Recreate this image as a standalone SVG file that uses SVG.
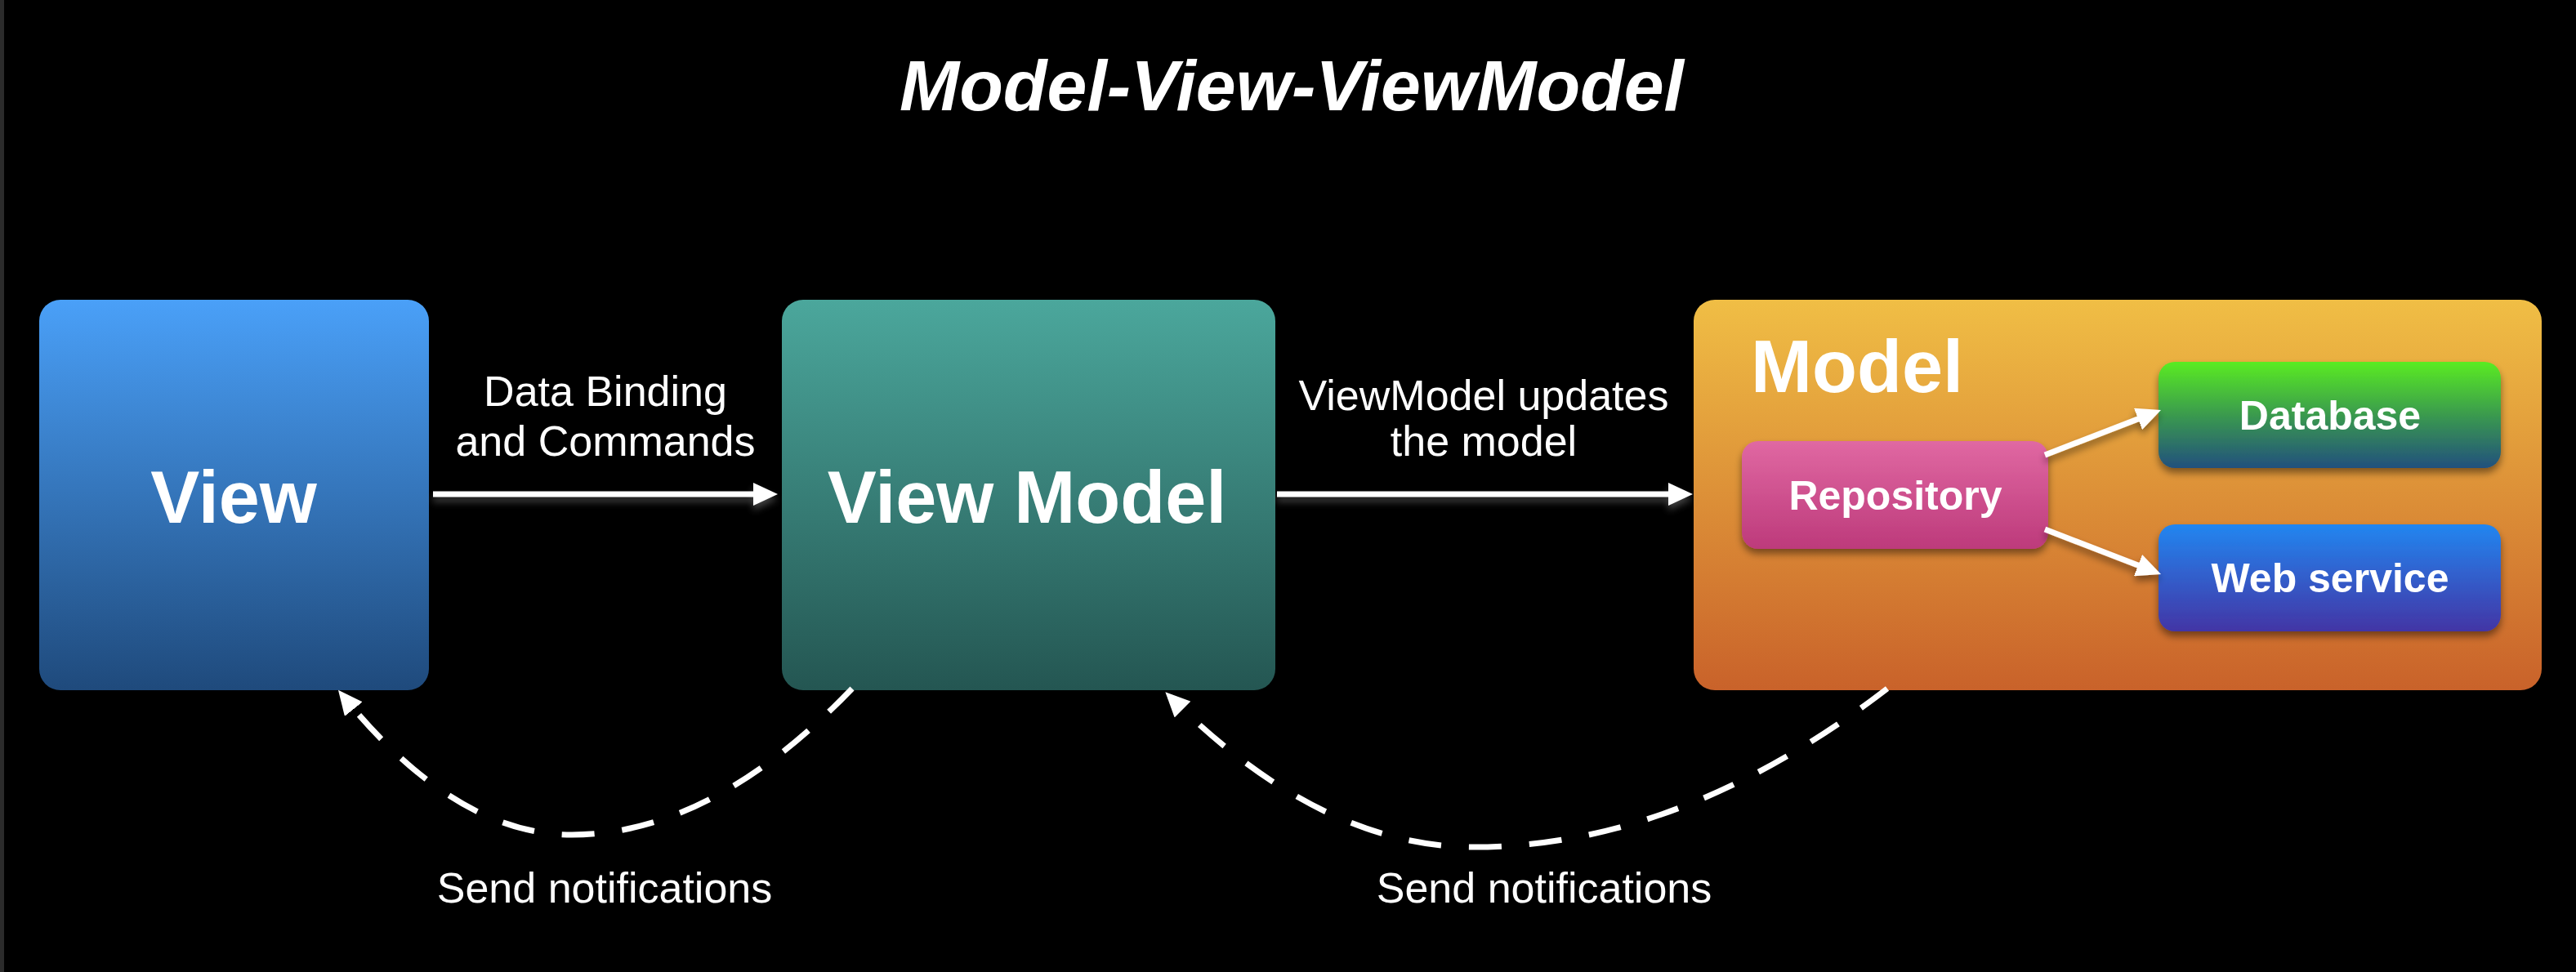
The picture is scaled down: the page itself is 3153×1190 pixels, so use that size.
<svg xmlns="http://www.w3.org/2000/svg" width="3153" height="1190" viewBox="0 0 3153 1190">
  <defs>
    <style>
      .t { font-family: "Liberation Sans", Arial, Helvetica, sans-serif; fill: #ffffff; }
      .big { font-size: 90px; font-weight: bold; }
      .lbl { font-size: 52px; }
      .inner { font-size: 50px; font-weight: bold; }
      .mid { text-anchor: middle; }
      .conn { stroke: #ffffff; stroke-width: 7; fill: none; }
      .dash { stroke-dasharray: 40 34; }
    </style>
    <linearGradient id="gView" x1="0" y1="0" x2="0" y2="1">
      <stop offset="0" stop-color="#4aa0f8"/>
      <stop offset="1" stop-color="#1f4a7c"/>
    </linearGradient>
    <linearGradient id="gVM" x1="0" y1="0" x2="0" y2="1">
      <stop offset="0" stop-color="#4ba79c"/>
      <stop offset="1" stop-color="#245652"/>
    </linearGradient>
    <linearGradient id="gModel" x1="0" y1="0" x2="0" y2="1">
      <stop offset="0" stop-color="#f0be45"/>
      <stop offset="1" stop-color="#c9622a"/>
    </linearGradient>
    <linearGradient id="gRepo" x1="0" y1="0" x2="0" y2="1">
      <stop offset="0" stop-color="#e068a2"/>
      <stop offset="1" stop-color="#bd3a7b"/>
    </linearGradient>
    <linearGradient id="gDb" x1="0" y1="0" x2="0" y2="1">
      <stop offset="0" stop-color="#5aec22"/>
      <stop offset="0.5" stop-color="#3a9a4e"/>
      <stop offset="1" stop-color="#22507d"/>
    </linearGradient>
    <linearGradient id="gWs" x1="0" y1="0" x2="0" y2="1">
      <stop offset="0" stop-color="#2286f0"/>
      <stop offset="1" stop-color="#4335a5"/>
    </linearGradient>
    <filter id="shadow" filterUnits="userSpaceOnUse" x="0" y="0" width="3153" height="1190">
      <feGaussianBlur in="SourceAlpha" stdDeviation="5"/>
      <feOffset dx="0" dy="6" result="b"/>
      <feComponentTransfer><feFuncA type="linear" slope="0.45"/></feComponentTransfer>
      <feMerge><feMergeNode/><feMergeNode in="SourceGraphic"/></feMerge>
    </filter>
    <filter id="glow" filterUnits="userSpaceOnUse" x="0" y="0" width="3153" height="1190">
      <feGaussianBlur in="SourceAlpha" stdDeviation="4"/>
      <feOffset dx="0" dy="6" result="b"/>
      <feFlood flood-color="#777777" flood-opacity="0.55"/>
      <feComposite in2="b" operator="in"/>
      <feMerge><feMergeNode/><feMergeNode in="SourceGraphic"/></feMerge>
    </filter>
    <marker id="ah" markerUnits="userSpaceOnUse" markerWidth="30" markerHeight="28" viewBox="0 0 30 28" refX="15" refY="14" orient="auto">
      <path d="M0,0 L30,14 L0,28 z" fill="#ffffff"/>
    </marker>
    <marker id="ahd" markerUnits="userSpaceOnUse" markerWidth="30" markerHeight="28" viewBox="0 0 30 28" refX="22" refY="14" orient="auto">
      <path d="M0,0 L30,14 L0,28 z" fill="#ffffff"/>
    </marker>
  </defs>

  <rect x="0" y="0" width="3153" height="1190" fill="#000000"/>
  <rect x="0" y="0" width="5" height="1190" fill="#2b2b2b"/>

  <text class="t" x="1101" y="135" font-size="88" font-weight="bold" font-style="italic" textLength="960" lengthAdjust="spacingAndGlyphs">Model-View-ViewModel</text>

  <g id="view">
    <rect x="48" y="367" width="477" height="478" rx="26" fill="url(#gView)"/>
    <text class="t big mid" x="286" y="640">View</text>
  </g>

  <g id="viewmodel">
    <rect x="957" y="367" width="604" height="478" rx="26" fill="url(#gVM)"/>
    <text class="t big mid" x="1257" y="640">View Model</text>
  </g>

  <g id="model">
    <rect x="2073" y="367" width="1038" height="478" rx="26" fill="url(#gModel)"/>
    <text class="t big" x="2143" y="480">Model</text>
  </g>

  <g id="repository" filter="url(#shadow)">
    <rect x="2132" y="540" width="375" height="132" rx="20" fill="url(#gRepo)"/>
    <text class="t inner mid" x="2320" y="624">Repository</text>
  </g>

  <g id="database" filter="url(#shadow)">
    <rect x="2642" y="443" width="419" height="130" rx="20" fill="url(#gDb)"/>
    <text class="t inner mid" x="2852" y="526">Database</text>
  </g>

  <g id="webservice" filter="url(#shadow)">
    <rect x="2642" y="642" width="419" height="131" rx="20" fill="url(#gWs)"/>
    <text class="t inner mid" x="2852" y="725">Web service</text>
  </g>

  <g id="connectors">
    <g filter="url(#glow)">
      <line class="conn" x1="530" y1="605" x2="937" y2="605" marker-end="url(#ah)"/>
      <line class="conn" x1="1563" y1="605" x2="2057" y2="605" marker-end="url(#ah)"/>
    </g>
    <g filter="url(#shadow)">
      <line class="conn" x1="2503" y1="557" x2="2631" y2="507.5" marker-end="url(#ah)"/>
      <line class="conn" x1="2503" y1="648" x2="2631" y2="697.5" marker-end="url(#ah)"/>
    </g>
    <path class="conn dash" d="M1043,843 Q871,1022 700,1022 Q557,1022 419,851" marker-end="url(#ahd)"/>
    <path class="conn dash" d="M2310,843 Q2057,1037 1804,1037 Q1616,1037 1432,853" marker-end="url(#ahd)"/>

    <text class="t lbl mid" x="741" y="497">Data Binding</text>
    <text class="t lbl mid" x="741" y="558">and Commands</text>
    <text class="t lbl mid" x="1816" y="502">ViewModel updates</text>
    <text class="t lbl mid" x="1816" y="558">the model</text>
    <text class="t lbl mid" x="740" y="1105">Send notifications</text>
    <text class="t lbl mid" x="1890" y="1105">Send notifications</text>
  </g>
</svg>
